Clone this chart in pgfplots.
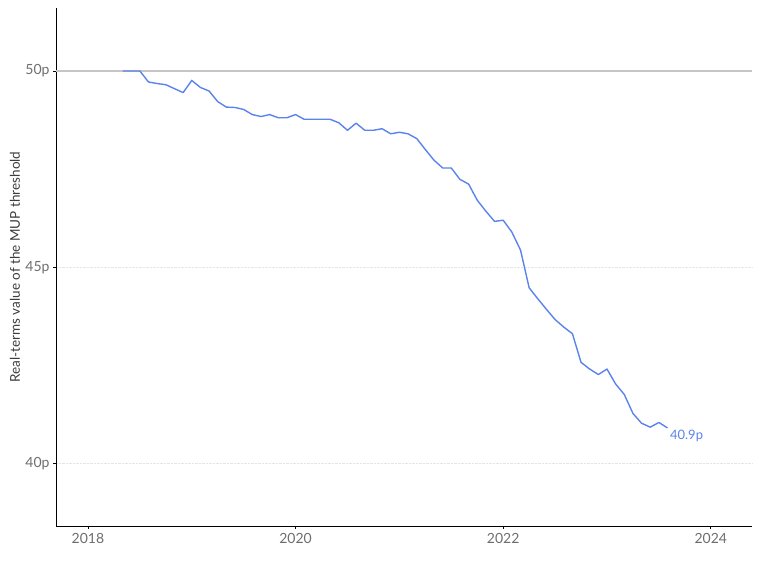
\documentclass[border=0pt]{standalone}
\usepackage{fontspec}
\setmainfont{Lato}
\usepackage{pgfplots}
\pgfplotsset{compat=1.18}
\definecolor{mupblue}{RGB}{91,131,236}
\definecolor{ticktext}{RGB}{110,110,110}
\definecolor{labeltext}{RGB}{60,60,60}
\begin{document}
\begin{tikzpicture}
  \useasboundingbox (0,0) rectangle (760pt,571pt);
  \begin{axis}[
      at={(56pt,45pt)}, anchor=south west,
      scale only axis,
      width=696pt, height=518pt,
      xmin=2017.692, xmax=2024.397,
      ymin=38.413, ymax=51.604,
      axis x line*=bottom,
      axis y line*=left,
      axis line style={-, black, line width=0.9pt},
      xtick={2018,2020,2022,2024},
      xticklabel style={/pgf/number format/1000 sep={}},
      ytick={40,45},
      extra y ticks={50},
      extra y tick style={grid style={solid, gray!45, line width=1.3pt}},
      yticklabel={\pgfmathprintnumber{\tick}p},
      /pgf/number format/assume math mode=true,
      ymajorgrids=true,
      grid style={densely dotted, gray!20, line width=0.8pt},
      tick align=outside,
      major tick length=3pt,
      tick style={black, line width=0.8pt},
      ticklabel style={font=\fontsize{14}{16}\selectfont, text=ticktext},
      xticklabel style={yshift=-1pt},
      ylabel={Real-terms value of the MUP threshold},
      ylabel style={at={(axis description cs:-0.0589,0.5)}, anchor=center,
        font=\fontsize{13.5}{15}\selectfont, text=labeltext},
      clip=false,
    ]
    \addplot[mupblue, line width=1.4pt, line join=round] coordinates {
      (2018.333,50.00) (2018.417,50.00) (2018.500,50.00) (2018.583,49.72)
      (2018.667,49.68) (2018.750,49.65) (2018.833,49.55) (2018.917,49.45)
      (2019.000,49.76) (2019.083,49.58) (2019.167,49.49) (2019.250,49.22)
      (2019.333,49.08) (2019.417,49.07) (2019.500,49.02) (2019.583,48.89)
      (2019.667,48.84) (2019.750,48.89) (2019.833,48.81) (2019.917,48.81)
      (2020.000,48.89) (2020.083,48.77) (2020.167,48.77) (2020.250,48.77)
      (2020.333,48.77) (2020.417,48.68) (2020.500,48.49) (2020.583,48.67)
      (2020.667,48.49) (2020.750,48.49) (2020.833,48.53) (2020.917,48.40)
      (2021.000,48.44) (2021.083,48.40) (2021.167,48.28) (2021.250,48.00)
      (2021.333,47.73) (2021.417,47.53) (2021.500,47.53) (2021.583,47.24)
      (2021.667,47.12) (2021.750,46.71) (2021.833,46.43) (2021.917,46.17)
      (2022.000,46.20) (2022.083,45.90) (2022.167,45.44) (2022.250,44.48)
      (2022.333,44.20) (2022.417,43.93) (2022.500,43.67) (2022.583,43.48)
      (2022.667,43.31) (2022.750,42.58) (2022.833,42.41) (2022.917,42.27)
      (2023.000,42.41) (2023.083,42.03) (2023.167,41.76) (2023.250,41.28)
      (2023.333,41.03) (2023.417,40.93) (2023.500,41.05) (2023.583,40.91)
    };
    \node[anchor=west, inner sep=0pt, text=mupblue, font=\fontsize{13}{15}\selectfont]
      at (axis cs:2023.606,40.72) {40.9p};
  \end{axis}
\end{tikzpicture}
\end{document}
